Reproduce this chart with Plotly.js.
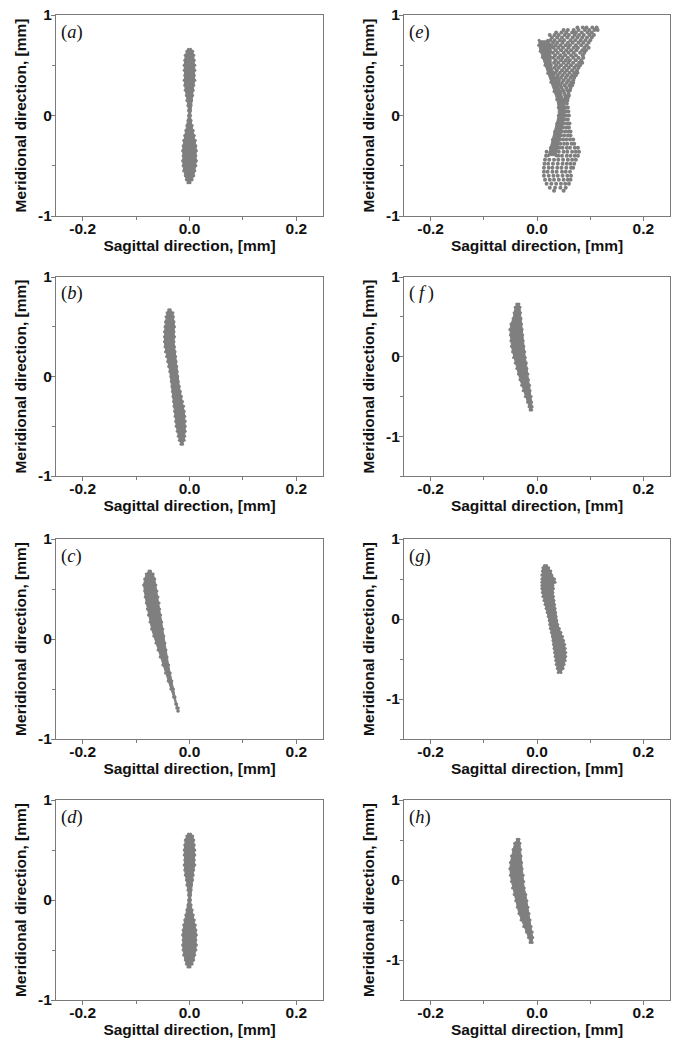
<!DOCTYPE html>
<html><head><meta charset="utf-8">
<script src="https://cdn.plot.ly/plotly-3.0.1.min.js"></script>
<style>html,body{margin:0;padding:0;background:#fff}#chart{width:673px;height:1041px}</style>
</head><body><div id="chart"></div>
<script>
// ---------------- DATA ----------------
// Dense spot envelopes: meridional levels (mm) with left / right sagittal edge (mm)
const aLevels = [0.66,0.64,0.6,0.55,0.5,0.45,0.4,0.35,0.3,0.25,0.2,0.15,0.1,0.05,0,-0.05,-0.1,-0.15,-0.2,-0.25,-0.3,-0.35,-0.4,-0.45,-0.5,-0.55,-0.6,-0.64,-0.67];
const aRight  = [0.002,0.006,0.008,0.009,0.010,0.010,0.009,0.010,0.008,0.007,0.006,0.004,0.003,0.002,0.002,0.003,0.005,0.007,0.009,0.011,0.012,0.013,0.012,0.013,0.012,0.010,0.008,0.005,0.001];
const aLeft   = [-0.002,-0.005,-0.008,-0.009,-0.010,-0.010,-0.009,-0.010,-0.009,-0.008,-0.006,-0.005,-0.003,-0.002,-0.002,-0.003,-0.005,-0.007,-0.009,-0.011,-0.012,-0.013,-0.012,-0.013,-0.012,-0.011,-0.008,-0.006,-0.003];

const bLevels = [0.67,0.64,0.6,0.55,0.5,0.45,0.4,0.35,0.3,0.25,0.2,0.15,0.1,0.05,0,-0.05,-0.1,-0.15,-0.2,-0.25,-0.3,-0.35,-0.4,-0.45,-0.5,-0.55,-0.6,-0.64,-0.68];
const bRight  = [-0.036,-0.031,-0.030,-0.029,-0.028,-0.029,-0.028,-0.029,-0.028,-0.027,-0.026,-0.025,-0.024,-0.023,-0.022,-0.021,-0.019,-0.017,-0.015,-0.013,-0.011,-0.010,-0.009,-0.008,-0.008,-0.008,-0.009,-0.010,-0.013];
const bLeft   = [-0.039,-0.042,-0.044,-0.045,-0.046,-0.047,-0.047,-0.047,-0.046,-0.045,-0.043,-0.041,-0.039,-0.037,-0.035,-0.034,-0.033,-0.032,-0.031,-0.030,-0.029,-0.028,-0.027,-0.026,-0.025,-0.023,-0.021,-0.019,-0.016];

const cLevels = [0.68,0.65,0.6,0.54,0.48,0.42,0.36,0.3,0.24,0.17,0.1,0.03,-0.04,-0.11,-0.18,-0.26,-0.34,-0.42,-0.5,-0.58,-0.65,-0.69,-0.72];
const cRight  = [-0.073,-0.068,-0.065,-0.063,-0.061,-0.059,-0.057,-0.056,-0.054,-0.052,-0.050,-0.048,-0.046,-0.044,-0.042,-0.039,-0.036,-0.033,-0.030,-0.027,-0.024,-0.021,-0.021];
const cLeft   = [-0.076,-0.081,-0.084,-0.086,-0.084,-0.083,-0.081,-0.079,-0.077,-0.074,-0.071,-0.067,-0.063,-0.059,-0.055,-0.050,-0.045,-0.040,-0.035,-0.030,-0.026,-0.024,-0.022];

// (d) is the same spot as (a)
const dLevels = aLevels, dRight = aRight, dLeft = aLeft;

// (e): dense core envelope plus individually visible spots (rows of spots)
const eLevels = [0.75,0.70,0.64,0.58,0.50,0.42,0.33,0.24,0.16,0.08,0.0,-0.08,-0.16,-0.24,-0.32,-0.40];
const eLeft   = [0.004,0.003,0.006,0.010,0.015,0.020,0.026,0.032,0.037,0.040,0.040,0.037,0.033,0.029,0.025,0.021];
const eRight  = [0.020,0.028,0.026,0.026,0.027,0.032,0.038,0.045,0.050,0.053,0.052,0.049,0.046,0.043,0.040,0.036];
const eSpotRowsY = [0.875,0.85,0.825,0.80,0.775,0.75,0.725,0.70,0.675,0.65,0.625,0.60,0.575,0.55,0.525,0.50,0.475,0.45,0.425,0.40,0.375,0.35,0.325,0.30,0.275,0.25,0.225,0.20,0.175,0.15,
  0.12,0.08,0.04,0.00,-0.04,-0.08,-0.12,-0.16,-0.20,-0.24,-0.28,-0.32,-0.36,-0.40,-0.44,-0.48,-0.52,-0.56,-0.60,-0.64,-0.68,-0.72,-0.75];
const eSpotRowsX = [
  [0.076,0.086,0.093,0.104,0.112],
  [0.050,0.058,0.069,0.078,0.090,0.098,0.108,0.114],
  [0.036,0.046,0.055,0.066,0.073,0.084,0.095,0.103],
  [0.024,0.033,0.041,0.052,0.060,0.071,0.079,0.088,0.099,0.107],
  [0.028,0.038,0.047,0.057,0.067,0.076,0.085,0.094,0.103],
  [0.025,0.033,0.043,0.051,0.063,0.072,0.082,0.091,0.100],
  [0.030,0.038,0.048,0.058,0.067,0.078,0.087,0.097],
  [0.035,0.044,0.054,0.062,0.073,0.083,0.093],
  [0.031,0.040,0.049,0.059,0.069,0.077,0.089,0.097],
  [0.035,0.045,0.055,0.064,0.074,0.085,0.092],
  [0.030,0.039,0.050,0.059,0.069,0.081,0.089],
  [0.034,0.044,0.053,0.064,0.073,0.086],
  [0.031,0.040,0.048,0.058,0.068,0.078,0.087],
  [0.035,0.045,0.054,0.062,0.073,0.083],
  [0.032,0.040,0.050,0.059,0.068,0.079,0.085],
  [0.036,0.045,0.055,0.064,0.074,0.081],
  [0.033,0.041,0.051,0.060,0.070,0.078],
  [0.037,0.047,0.056,0.066,0.075],
  [0.035,0.043,0.052,0.061,0.070,0.076],
  [0.039,0.048,0.057,0.066,0.073],
  [0.038,0.045,0.054,0.063,0.070],
  [0.041,0.050,0.059,0.068],
  [0.040,0.047,0.056,0.064,0.068],
  [0.044,0.052,0.061,0.066],
  [0.046,0.055,0.063],
  [0.049,0.057,0.062],
  [0.051,0.059],
  [0.053,0.060],
  [0.054,0.058],
  [0.053,0.057],
  [0.050,0.056],
  [0.055,0.058],
  [0.054,0.059],
  [0.055,0.060],
  [0.053,0.058],
  [0.051,0.057,0.061],
  [0.049,0.055,0.060],
  [0.047,0.053,0.059,0.063],
  [0.045,0.051,0.058,0.063],
  [0.043,0.049,0.055,0.062,0.068],
  [0.044,0.051,0.057,0.065,0.070],
  [0.042,0.048,0.056,0.062,0.071,0.077],
  [0.018,0.041,0.050,0.057,0.066,0.073,0.079],
  [0.017,0.040,0.047,0.056,0.063,0.071,0.077],
  [0.015,0.023,0.032,0.040,0.049,0.058,0.066,0.073],
  [0.014,0.021,0.030,0.039,0.048,0.056,0.063,0.070],
  [0.013,0.022,0.029,0.038,0.046,0.055,0.064,0.068],
  [0.013,0.020,0.029,0.037,0.047,0.054,0.062],
  [0.013,0.022,0.031,0.039,0.048,0.057,0.064],
  [0.015,0.024,0.032,0.041,0.050,0.058,0.063],
  [0.018,0.027,0.036,0.045,0.053,0.060],
  [0.024,0.034,0.044,0.054],
  [0.032,0.050]
];

const fLevels = [0.66,0.62,0.55,0.48,0.41,0.34,0.27,0.2,0.13,0.06,-0.01,-0.08,-0.15,-0.22,-0.29,-0.36,-0.43,-0.5,-0.57,-0.63,-0.67];
const fRight  = [-0.034,-0.032,-0.031,-0.030,-0.029,-0.028,-0.027,-0.026,-0.025,-0.023,-0.022,-0.020,-0.019,-0.017,-0.016,-0.014,-0.013,-0.011,-0.010,-0.009,-0.010];
const fLeft   = [-0.038,-0.041,-0.043,-0.045,-0.049,-0.051,-0.050,-0.049,-0.048,-0.046,-0.044,-0.041,-0.038,-0.035,-0.032,-0.029,-0.026,-0.022,-0.018,-0.015,-0.013];

const gLevels = [0.67,0.64,0.6,0.55,0.5,0.46,0.42,0.38,0.33,0.28,0.23,0.18,0.13,0.08,0.03,-0.02,-0.07,-0.12,-0.17,-0.22,-0.27,-0.32,-0.37,-0.42,-0.47,-0.52,-0.57,-0.62,-0.67];
const gRight  = [0.018,0.022,0.026,0.028,0.033,0.034,0.030,0.031,0.030,0.031,0.032,0.033,0.034,0.035,0.036,0.037,0.039,0.042,0.045,0.048,0.050,0.052,0.053,0.054,0.054,0.053,0.051,0.049,0.045];
const gLeft   = [0.014,0.011,0.010,0.009,0.009,0.009,0.009,0.009,0.010,0.011,0.013,0.015,0.017,0.019,0.021,0.023,0.024,0.025,0.027,0.029,0.030,0.031,0.032,0.033,0.034,0.035,0.036,0.038,0.040];

const hLevels = [0.51,0.46,0.38,0.3,0.22,0.14,0.06,-0.02,-0.1,-0.18,-0.26,-0.34,-0.42,-0.5,-0.58,-0.65,-0.72,-0.78];
const hRight  = [-0.034,-0.032,-0.031,-0.030,-0.029,-0.028,-0.026,-0.025,-0.024,-0.021,-0.019,-0.017,-0.015,-0.013,-0.011,-0.009,-0.008,-0.009];
const hLeft   = [-0.037,-0.042,-0.045,-0.048,-0.050,-0.051,-0.050,-0.048,-0.046,-0.043,-0.040,-0.037,-0.034,-0.030,-0.025,-0.020,-0.016,-0.013];

const panelLabels = ['a','e','b','f','c','g','d','h'];
const xTickVals = [-0.2, 0, 0.2];
const xTickText = ['-0.2', '0.0', '0.2'];
const yTickVals = [-1, 0, 1];
const yTickText = ['-1', '0', '1'];
const xTitle = 'Sagittal direction, [mm]';
const yTitle = 'Meridional direction, [mm]';

// ---------------- LAYOUT / STYLE ----------------
const W = 673, H = 1041;
const SPOT = '#7f7f7f', AXC = '#7a7a7a', TXT = '#111';
const SANS = 'Liberation Sans, Arial, Helvetica, sans-serif';
const colsPx = [[56, 323], [404, 670]];
const rowsPx = [[15, 216], [277, 476], [539, 739], [800, 1000]];
const xDom = c => [colsPx[c][0] / W, colsPx[c][1] / W];
const yDom = r => [1 - rowsPx[r][1] / H, 1 - rowsPx[r][0] / H];
const bold = s => '<b>' + s + '</b>';

const panels = [
  {lv: aLevels, L: aLeft, R: aRight, yr: [-1, 1],   row: 0, col: 0},
  {lv: eLevels, L: eLeft, R: eRight, yr: [-1, 1],   row: 0, col: 1, spotsY: eSpotRowsY, spotsX: eSpotRowsX},
  {lv: bLevels, L: bLeft, R: bRight, yr: [-1, 1],   row: 1, col: 0},
  {lv: fLevels, L: fLeft, R: fRight, yr: [-1.5, 1], row: 1, col: 1},
  {lv: cLevels, L: cLeft, R: cRight, yr: [-1, 1],   row: 2, col: 0},
  {lv: gLevels, L: gLeft, R: gRight, yr: [-1.5, 1], row: 2, col: 1},
  {lv: dLevels, L: dLeft, R: dRight, yr: [-1, 1],   row: 3, col: 0},
  {lv: hLevels, L: hLeft, R: hRight, yr: [-1.5, 1], row: 3, col: 1}
];

const traces = [];
const layout = {
  width: W, height: H, margin: {l: 0, r: 0, t: 0, b: 0},
  paper_bgcolor: '#fff', plot_bgcolor: '#fff', showlegend: false,
  font: {family: SANS, color: TXT},
  annotations: []
};

panels.forEach((p, i) => {
  const n = i + 1, xa = 'x' + (n === 1 ? '' : n), ya = 'y' + (n === 1 ? '' : n);
  traces.push({
    type: 'scatter', xaxis: xa, yaxis: ya,
    x: p.R.concat(p.L.slice().reverse()),
    y: p.lv.concat(p.lv.slice().reverse()),
    mode: 'lines+markers', fill: 'toself', fillcolor: SPOT,
    line: {color: SPOT, width: 1}, marker: {color: SPOT, size: 3},
    hoverinfo: 'skip'
  });
  if (p.spotsY) {
    const sx = [], sy = [];
    p.spotsY.forEach((yv, k) => p.spotsX[k].forEach(xv => { sx.push(xv); sy.push(yv); }));
    traces.push({type: 'scatter', xaxis: xa, yaxis: ya, x: sx, y: sy, mode: 'markers',
      marker: {color: SPOT, size: 4}, hoverinfo: 'skip'});
  }
  const tickFont = {family: SANS, size: 15.5, color: TXT, weight: 'bold'};
  const titleFont = {family: SANS, size: 15.5, color: TXT, weight: 'bold'};
  layout['xaxis' + (n === 1 ? '' : n)] = {
    domain: xDom(p.col), anchor: ya, range: [-0.25, 0.25],
    tickmode: 'array', tickvals: xTickVals, ticktext: xTickText.map(bold),
    ticks: 'outside', ticklen: 4, tickwidth: 1, tickcolor: AXC, ticklabelstandoff: -6,
    minor: {tickmode: 'linear', tick0: 0, dtick: 0.1, ticks: 'outside', ticklen: 3, tickcolor: AXC, showgrid: false},
    showline: true, linecolor: AXC, linewidth: 1, mirror: true,
    showgrid: false, zeroline: false, tickfont: tickFont,
    title: {text: bold(xTitle), font: titleFont, standoff: 3}
  };
  layout['yaxis' + (n === 1 ? '' : n)] = {
    domain: yDom(p.row), anchor: xa, range: p.yr,
    tickmode: 'array', tickvals: yTickVals, ticktext: yTickText.map(bold),
    ticks: 'outside', ticklen: 4, tickwidth: 1, tickcolor: AXC, ticklabelstandoff: -4,
    minor: {tickmode: 'linear', tick0: 0.5, dtick: 1, ticks: 'outside', ticklen: 3, tickcolor: AXC, showgrid: false},
    showline: true, linecolor: AXC, linewidth: 1, mirror: true,
    showgrid: false, zeroline: false, tickfont: tickFont,
    title: {text: bold(yTitle), font: titleFont, standoff: 7}
  };
  const lab = panelLabels[i];
  layout.annotations.push({
    xref: 'paper', yref: 'paper',
    x: xDom(p.col)[0] + 3 / W, y: yDom(p.row)[1] - 17 / H,
    xanchor: 'left', yanchor: 'middle', showarrow: false,
    text: lab === 'f' ? '(\u2009<i>f</i>\u2009)' : '(<i>' + lab + '</i>)',
    font: {family: 'Liberation Serif, Times New Roman, serif', size: 18.5, color: TXT}
  });
});

Plotly.newPlot('chart', traces, layout, {staticPlot: true, displayModeBar: false});
</script>
</body></html>
